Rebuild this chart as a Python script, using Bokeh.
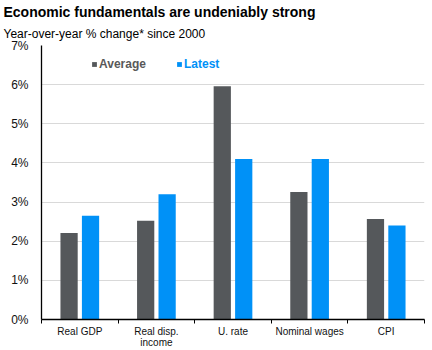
from bokeh.plotting import figure
from bokeh.models import (Range1d, LinearAxis, FixedTicker, Title,
                          PrintfTickFormatter, Legend, LegendItem, ColumnDataSource)
from bokeh.transform import dodge
from bokeh.embed import file_html
from bokeh.resources import INLINE

categories = ["Real GDP", "Real disp.\nincome", "U. rate", "Nominal wages", "CPI"]
average = [2.21, 2.52, 5.96, 3.26, 2.57]
latest = [2.65, 3.20, 4.10, 4.10, 2.40]
y_ticks = [0, 1, 2, 3, 4, 5, 6, 7]
title_text = "Economic fundamentals are undeniably strong"
subtitle_text = "Year-over-year % change* since 2000"

FONT = "Liberation Sans"
GRAY = "#55585B"
BLUE = "#0091F7"

n = len(categories)
centers = [i + 0.5 for i in range(n)]
bounds = list(range(n + 1))
source = ColumnDataSource(dict(pos=centers, avg=average, lat=latest))

p = figure(width=432, height=350, output_backend="svg", toolbar_location=None,
           x_range=Range1d(0, n), y_range=Range1d(0, 7), x_axis_location=None,
           min_border_left=41, min_border_right=8, min_border_top=45, min_border_bottom=30)
p.outline_line_color = None
p.xgrid.grid_line_color = None
p.ygrid.grid_line_color = "#d9d9d9"
p.ygrid.grid_line_width = 1
p.ygrid.ticker = FixedTicker(ticks=y_ticks)

r_avg = p.vbar(x=dodge("pos", -0.14), top="avg", width=0.225, source=source,
               fill_color=GRAY, line_color=None)
r_lat = p.vbar(x=dodge("pos", 0.14), top="lat", width=0.225, source=source,
               fill_color=BLUE, line_color=None)

# y axis
ya = p.yaxis[0]
ya.ticker = FixedTicker(ticks=y_ticks)
ya.formatter = PrintfTickFormatter(format="%d%%")
ya.major_tick_line_color = None
ya.minor_tick_line_color = None
ya.axis_line_color = "black"
ya.axis_line_width = 1.3
ya.major_label_text_font = FONT
ya.major_label_text_font_size = "12px"
ya.major_label_text_color = "#111111"
ya.major_label_standoff = 7

# x axis: labels at category centers, minor ticks at category boundaries
xa = LinearAxis(ticker=FixedTicker(ticks=centers, minor_ticks=bounds),
                major_label_overrides={c: lab for c, lab in zip(centers, categories)},
                axis_line_color="black", axis_line_width=1.3,
                major_tick_line_color=None, major_tick_out=0, major_tick_in=0,
                minor_tick_line_color="black", minor_tick_out=4, minor_tick_in=0,
                major_label_text_font=FONT, major_label_text_font_size="10px",
                major_label_text_line_height=1.0,
                major_label_text_color="#111111", major_label_standoff=2)
p.add_layout(xa, "below")

# legends
leg_common = dict(glyph_width=6, glyph_height=6, label_height=12, label_standoff=2,
                  padding=0, margin=0, spacing=0, border_line_color=None, background_fill_alpha=0,
                  label_text_font=FONT, label_text_font_size="12px", label_text_font_style="bold")
leg1 = Legend(items=[LegendItem(label="Average", renderers=[r_avg])], location=(50, 248),
              label_text_color="#595959", **leg_common)
leg2 = Legend(items=[LegendItem(label="Latest", renderers=[r_lat])], location=(135, 248),
              label_text_color=BLUE, **leg_common)
p.add_layout(leg1)
p.add_layout(leg2)

# titles (subtitle first: closest to the plot)
p.add_layout(Title(text=subtitle_text, text_font=FONT, text_font_size="12px", text_font_style="normal",
                   text_color="black", align="left", offset=-38, standoff=10), "above")
p.add_layout(Title(text=title_text, text_font=FONT, text_font_size="14px", text_font_style="bold",
                   text_color="black", align="left", offset=-38, standoff=0), "above")

open("out.html", "w").write(file_html(p, INLINE))
